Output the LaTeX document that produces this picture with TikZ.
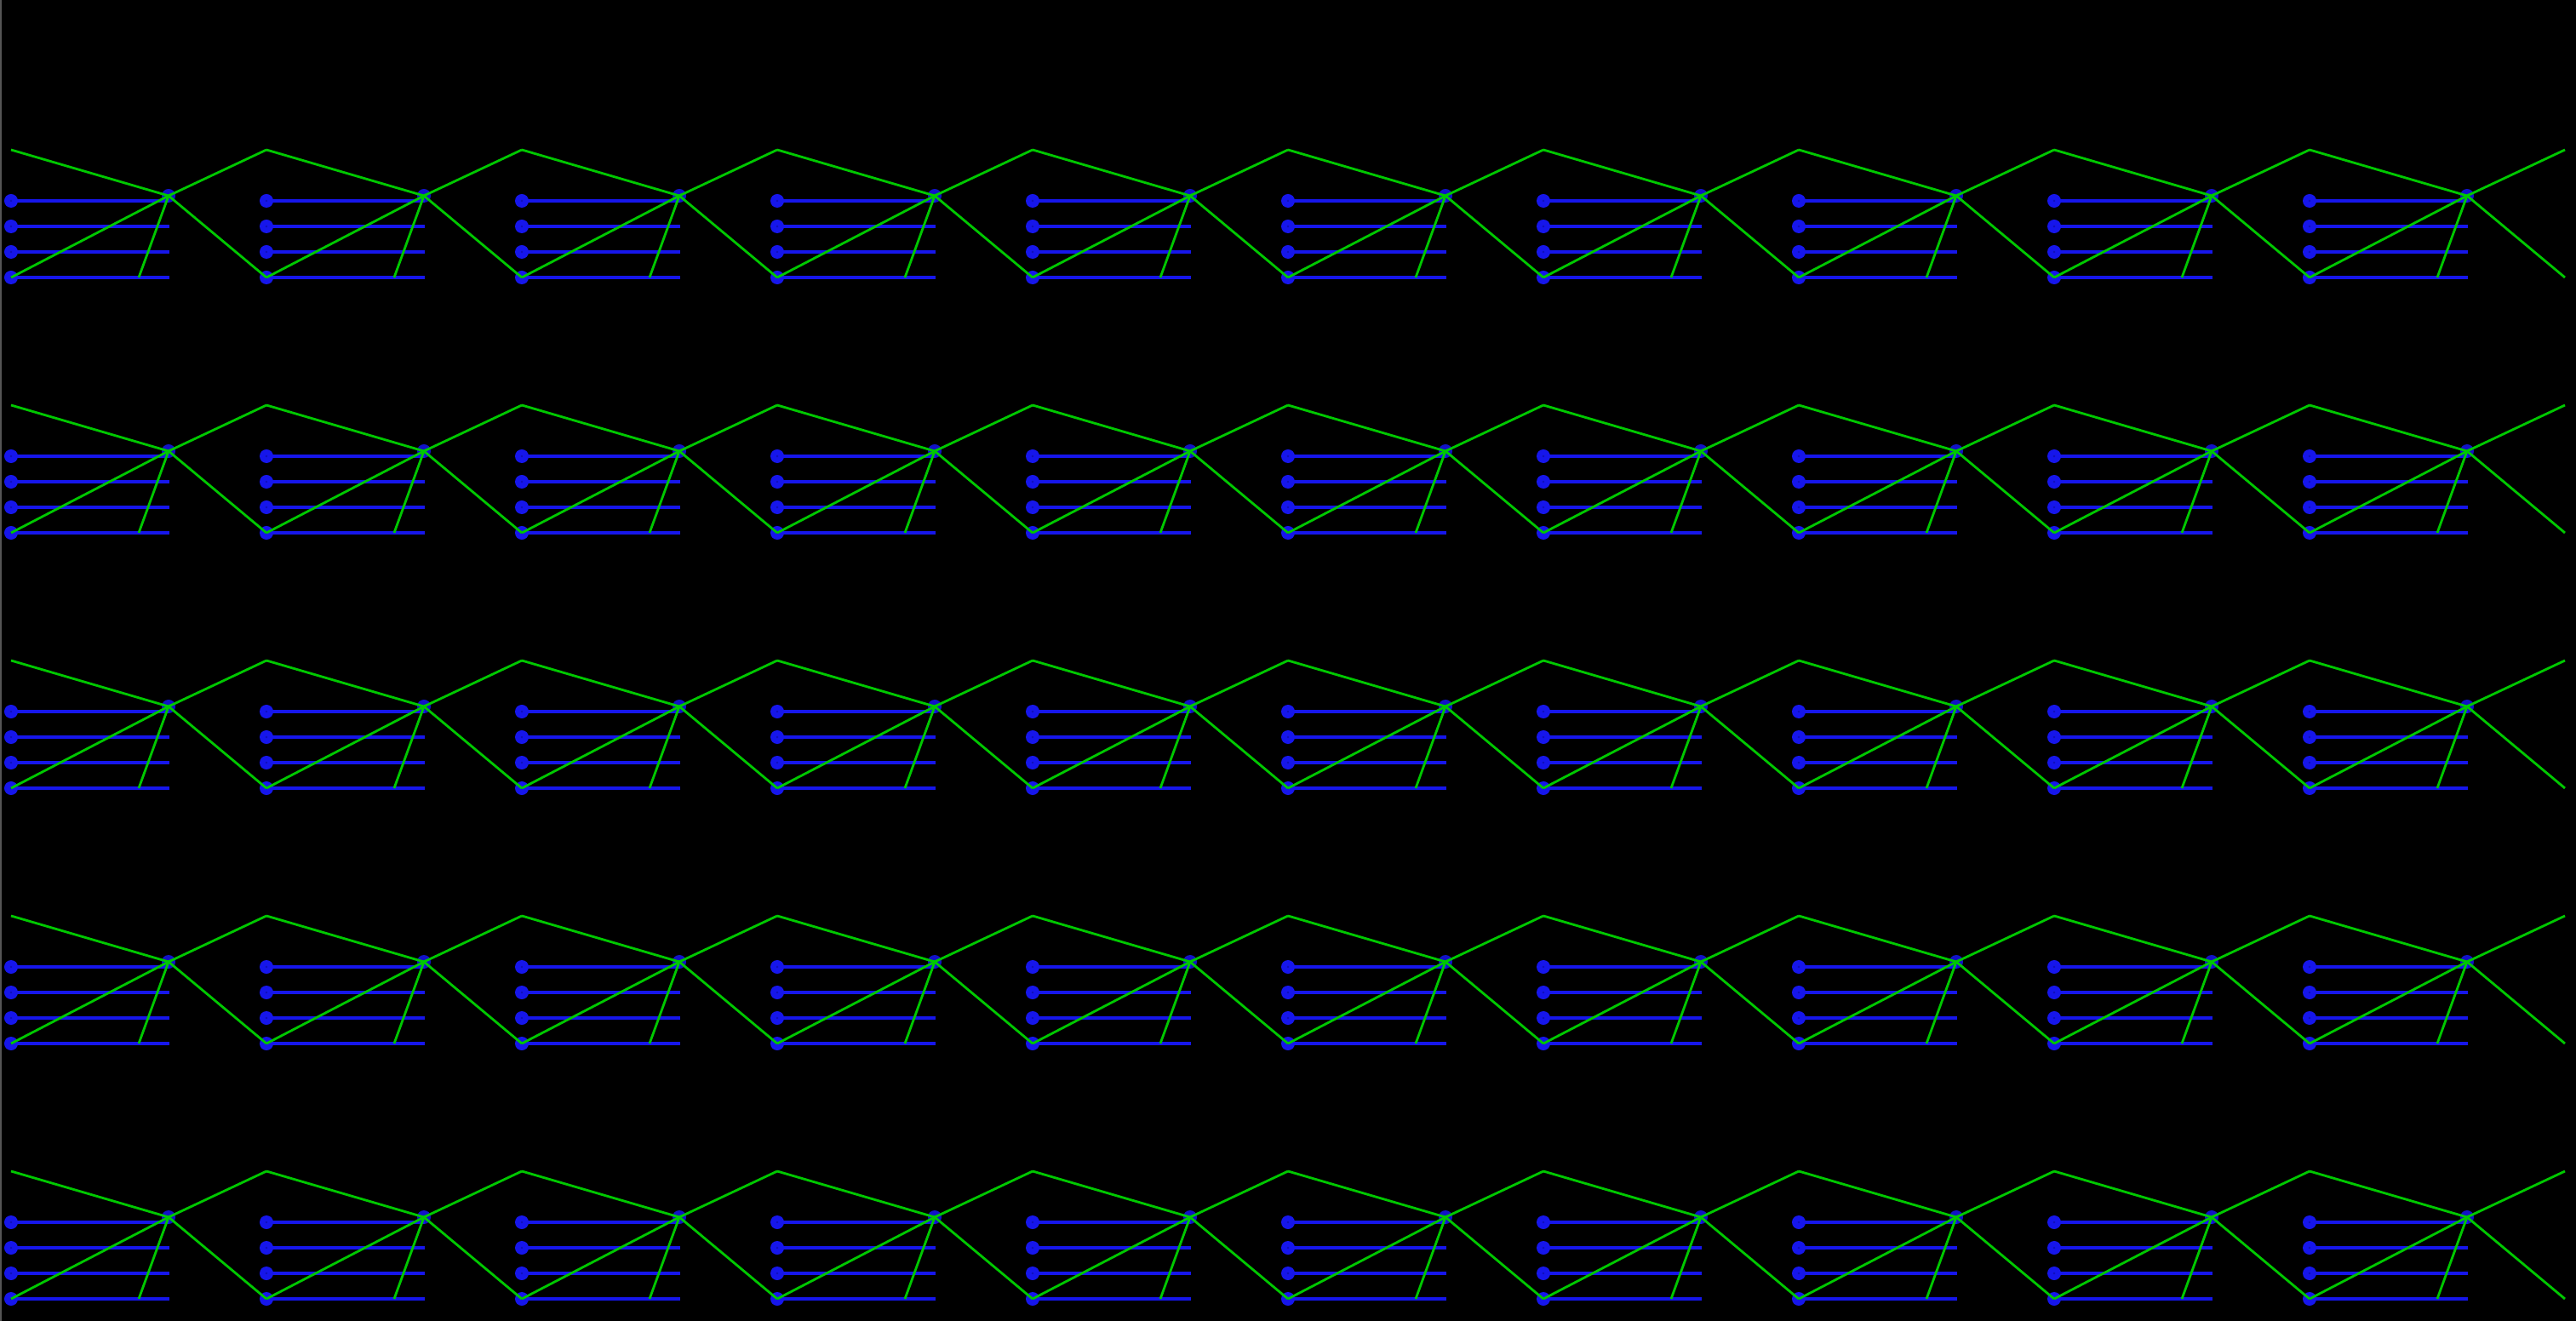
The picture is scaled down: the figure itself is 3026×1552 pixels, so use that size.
\documentclass[tikz,border=0pt]{standalone}
\definecolor{bl}{RGB}{22,22,235}
\definecolor{gr}{RGB}{0,200,0}
\definecolor{bdark}{RGB}{16,16,185}
\definecolor{edgegray}{RGB}{85,85,85}
\begin{document}
\begin{tikzpicture}[x=0.01cm,y=-0.01cm,
  dot/.style={circle,fill=bl,minimum size=0.16cm,inner sep=0pt,
    path picture={\fill[bdark] (path picture bounding box.center) circle (0.014cm);}},
  hub/.style={circle,fill=bl,fill opacity=0.85,minimum size=0.16cm,inner sep=0pt},
  bline/.style={draw=bl,line width=1.1pt},
  gline/.style={draw=gr,line width=0.8pt}]
\fill[black] (0,0) rectangle (3026,1552);
\fill[edgegray] (0,0) rectangle (2,1552);
\useasboundingbox (0,0) rectangle (3026,1552);
\foreach \r in {0,...,4}{
  \pgfmathsetmacro\yo{300*\r}
  \foreach \c in {0,...,10}{
    \pgfmathsetmacro\xo{13+300*\c}
    \coordinate (p\r-\c) at (\xo,\yo+176);
  }
  \coordinate (b\r-10) at (3013,\yo+326);
  \foreach \c in {0,...,9}{
    \pgfmathsetmacro\xo{13+300*\c}
    \foreach \k in {0,...,3}{
      \pgfmathsetmacro\yk{\yo+236+30*\k}
      \coordinate (s\r-\c-\k) at (\xo,\yk);
      \coordinate (e\r-\c-\k) at (\xo+186,\yk);
      \draw[bline] (s\r-\c-\k) -- (e\r-\c-\k);
      \node[dot] (d\r-\c-\k) at (s\r-\c-\k) {};
    }
    \coordinate (q\r-\c) at (\xo+150,\yo+326);
    \node[hub] (h\r-\c) at (\xo+185,\yo+230) {};
  }
  \foreach \c in {0,...,9}{
    \pgfmathtruncatemacro\cn{\c+1}
    \draw[gline] (p\r-\c) -- (h\r-\c.center) -- (p\r-\cn);
    \draw[gline] (d\r-\c-3.center) -- (h\r-\c.center) -- (q\r-\c);
    \ifnum\c<9
      \draw[gline] (h\r-\c.center) -- (d\r-\cn-3.center);
    \else
      \draw[gline] (h\r-\c.center) -- (b\r-10);
    \fi
  }
}
\end{tikzpicture}
\end{document}
